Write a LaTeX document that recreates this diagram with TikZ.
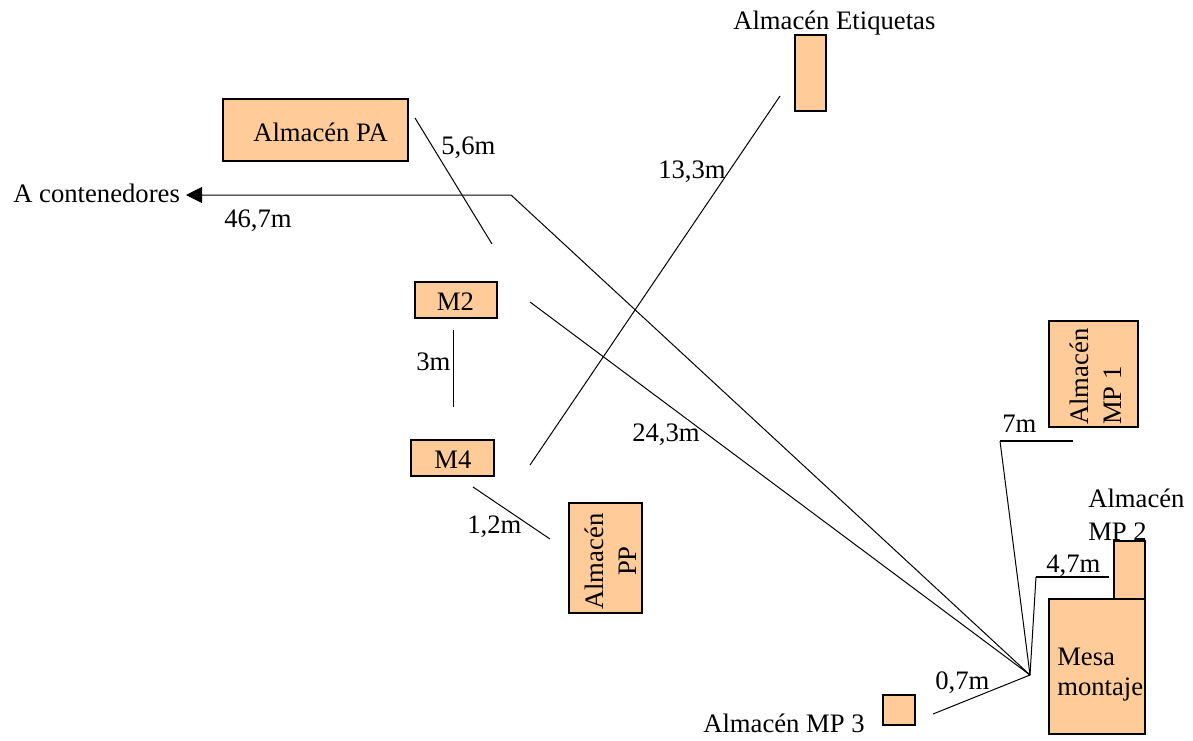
\documentclass[tikz,border=0pt]{standalone}
\usepackage{fontspec}
\setmainfont{Liberation Serif}
\usetikzlibrary{arrows.meta}
\definecolor{boxfill}{HTML}{FFCC99}
\tikzset{
  x=0.75pt,y=-0.75pt,
  store/.style={draw=black,line width=1.4pt,fill=boxfill},
  lbl/.style={inner sep=0pt,font=\fontsize{20}{23.5}\selectfont,text=black},
  link/.style={draw=black,line width=0.75pt},
}
\newcommand{\boxat}[5]{\path[store] (#2,#3) rectangle (#4,#5) coordinate[pos=0.5] (#1);}
\begin{document}
\begin{tikzpicture}
\useasboundingbox (0,0) rectangle (1193,740);
\boxat{etq}{795}{35}{826}{111}
\boxat{pa}{223}{99}{408}{161}
\boxat{mtwo}{415}{282}{497}{318}
\boxat{mfour}{411}{440}{494}{476}
\boxat{pp}{569}{503}{642}{613}
\boxat{mpone}{1049}{321}{1138}{427}
\boxat{mptwo}{1114}{541}{1145}{599}
\boxat{mesa}{1049}{599}{1145}{734}
\boxat{mpthree}{883}{695}{915}{725}
% connector points
\coordinate (hub) at (1030,675);
\coordinate (a1) at (415,118); \coordinate (a2) at (492,244);
\coordinate (e1) at (780,96); \coordinate (e2) at (530,465);
\coordinate (c1) at (511,195); \coordinate (c2) at (186,195);
\coordinate (m1) at (530,302);
\coordinate (v1) at (453,330); \coordinate (v2) at (453,407);
\coordinate (p1) at (473,487); \coordinate (p2) at (550,539);
\coordinate (s1) at (1073,441); \coordinate (s2) at (1000,441);
\coordinate (f1) at (1109,577); \coordinate (f2) at (1036,577);
\coordinate (z1) at (933,714);
\draw[link] (a1) -- (a2);
\draw[link] (e1) -- (e2);
\draw[link,-{Triangle[length=12pt,width=12pt]}] (hub) -- (c1) -- (c2);
\draw[link] (m1) -- (hub);
\draw[link] (v1) -- (v2);
\draw[link] (p1) -- (p2);
\draw[link,line width=1.1pt] (s1) -- (s2);
\draw[link] (s2) -- (hub);
\draw[link,line width=1.1pt] (f1) -- (f2);
\draw[link] (f2) -- (hub);
\draw[link] (hub) -- (z1);
% labels
\node[lbl,anchor=base west] (t1) at (733,29) {Almacén Etiquetas};
\node[lbl,anchor=base west] (t2) at (253,141) {Almacén PA};
\node[lbl,anchor=base west] (t3) at (13,202) {A contenedores};
\node[lbl,anchor=base west] (t4) at (224,227) {46,7m};
\node[lbl,anchor=base west] (t5) at (441,154) {5,6m};
\node[lbl,anchor=base west] (t6) at (658,178) {13,3m};
\node[lbl,anchor=base] (t7) at (455.5,310) {M2};
\node[lbl,anchor=base] (t8) at (453,468) {M4};
\node[lbl,anchor=base west] (t9) at (416,370) {3m};
\node[lbl,anchor=base west] (t10) at (632,441) {24,3m};
\node[lbl,anchor=base west] (t11) at (467,533) {1,2m};
\node[lbl,anchor=base west] (t12) at (1002,432) {7m};
\node[lbl,anchor=base west] (t13) at (1088,507) {Almacén};
\node[lbl,anchor=base west] (t14) at (1088,540) {MP 2};
\node[lbl,anchor=base west] (t15) at (1046,572) {4,7m};
\node[lbl,anchor=base west] (t16) at (1057,665) {Mesa};
\node[lbl,anchor=base west] (t17) at (1057,695) {montaje};
\node[lbl,anchor=base west] (t18) at (935,689) {0,7m};
\node[lbl,anchor=base west] (t19) at (703,732) {Almacén MP 3};
\node[lbl,rotate=90,anchor=base west] (t20) at (1088,425) {Almacén};
\node[lbl,rotate=90,anchor=base west] (t22) at (1121,425) {MP 1};
\node[lbl,rotate=90,anchor=base west] (t21) at (603,610) {Almacén};
\node[lbl,rotate=90,anchor=base] (t23) at (636,561) {PP};
\end{tikzpicture}
\end{document}
